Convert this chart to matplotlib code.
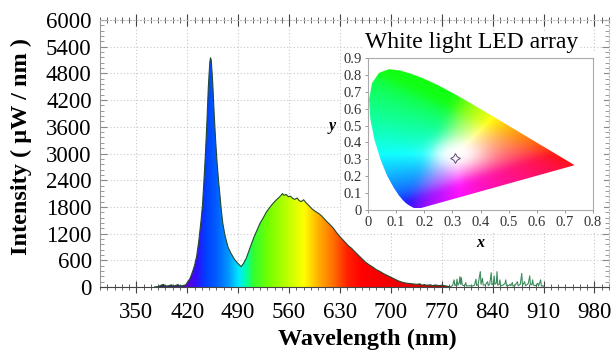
import numpy as np
import matplotlib
matplotlib.use("Agg")
import matplotlib.pyplot as plt
from matplotlib.colors import LinearSegmentedColormap, Normalize
from matplotlib.patches import Polygon
from matplotlib.ticker import MultipleLocator

# emission spectrum of the LED array (nm, uW/nm)
wl = [375, 380, 384, 387, 390, 395, 398, 401, 405, 407, 410, 414, 418, 421, 424,
      427, 430, 433, 436, 439, 441, 443, 445, 447, 449, 451, 452, 453, 455, 457,
      459, 461, 463, 465, 467, 469, 472, 476, 480, 485, 490, 494, 497, 501, 505,
      509, 512, 516, 520, 525, 529, 534, 538, 542, 546, 549, 551, 553, 556, 559,
      562, 565, 568, 571, 574, 577, 580, 583, 586, 589, 592, 596, 600, 604, 608,
      612, 617, 621, 625, 630, 634, 638, 642, 646, 650, 655, 660, 665, 670, 675,
      680, 685, 690, 695, 700, 705, 710, 715, 720, 725, 730, 735, 740, 743, 746,
      750, 754, 758, 762, 766, 770, 775, 780, 782]
intensity = [0, 10, 40, 60, 20, 30, 50, 20, 40, 55, 25, 30, 50, 120, 200,
             330, 480, 700, 1050, 1500, 1850, 2400, 3000, 3700, 4500, 5050, 5150, 5100, 4600, 3900,
             3300, 2800, 2400, 2050, 1700, 1420, 1150, 900, 760, 620, 520, 460, 520, 640, 820,
             1000, 1130, 1280, 1430, 1570, 1690, 1800, 1880, 1950, 2010, 2060, 2100, 2060, 2080, 2030,
             2040, 1990, 1970, 2000, 1940, 1920, 1960, 1900, 1850, 1800, 1750, 1700, 1660, 1610, 1540,
             1470, 1390, 1320, 1230, 1130, 1060, 990, 920, 870, 800, 720, 640, 560, 500, 450,
             390, 350, 300, 260, 220, 180, 140, 110, 90, 80, 70, 60, 70, 40, 55,
             35, 50, 30, 45, 30, 40, 25, 10, 0]

# near-infrared noise
nir_wl = [782, 785, 787, 788, 790, 791, 792, 794, 795, 796, 797, 798, 800, 802, 803,
          804, 808, 812, 815, 817, 818, 820, 823, 824, 826, 827, 830, 833, 834, 836,
          838, 839, 841, 842, 843, 845, 846, 847, 849, 850, 851, 854, 857, 858, 859,
          862, 864, 865, 867, 868, 871, 874, 875, 878, 880, 881, 884, 885, 887, 889,
          891, 892, 894, 895, 896, 899, 902, 903, 906, 907, 909, 911]
nir_val = [0, 40, 160, 30, 60, 175, 40, 90, 235, 60, 210, 50, 30, 40, 100,
           20, 30, 20, 40, 175, 30, 60, 345, 60, 195, 40, 50, 120, 30, 70,
           320, 50, 80, 250, 60, 90, 345, 40, 60, 160, 30, 40, 80, 160, 30,
           30, 60, 30, 100, 20, 40, 120, 30, 60, 305, 40, 120, 30, 50, 80,
           250, 50, 60, 160, 40, 30, 85, 20, 160, 20, 30, 0]

x_ticks = [350, 420, 490, 560, 630, 700, 770, 840, 910, 980]
y_ticks = [0, 600, 1200, 1800, 2400, 3000, 3600, 4200, 4800, 5400, 6000]

# CIE 1931 spectral locus (x, y)
locus_x = [0.1741, 0.1733, 0.1726, 0.1714, 0.1689, 0.1644, 0.1566, 0.1440, 0.1355,
           0.1241, 0.1096, 0.0913, 0.0687, 0.0454, 0.0235, 0.0082, 0.0039, 0.0139,
           0.0389, 0.0743, 0.1142, 0.1547, 0.1929, 0.2296, 0.2658, 0.3016, 0.3373,
           0.3731, 0.4087, 0.4441, 0.4788, 0.5125, 0.5448, 0.5752, 0.6029, 0.6270,
           0.6482, 0.6658, 0.6915, 0.7079, 0.7190, 0.7260, 0.7300, 0.7334, 0.7347]
locus_y = [0.0050, 0.0048, 0.0048, 0.0051, 0.0069, 0.0109, 0.0177, 0.0297, 0.0399,
           0.0578, 0.0868, 0.1327, 0.2007, 0.2950, 0.4127, 0.5384, 0.6548, 0.7502,
           0.8120, 0.8338, 0.8262, 0.8059, 0.7816, 0.7543, 0.7243, 0.6923, 0.6589,
           0.6245, 0.5896, 0.5547, 0.5202, 0.4866, 0.4544, 0.4242, 0.3965, 0.3725,
           0.3514, 0.3340, 0.3083, 0.2920, 0.2809, 0.2740, 0.2700, 0.2666, 0.2653]
led_x = [0.31]
led_y = [0.31]

SERIF = ["Liberation Serif", "DejaVu Serif"]
plt.rcParams["font.family"] = SERIF

W, H = 613, 354
fig = plt.figure(figsize=(W / 100, H / 100), dpi=100)


def px_axes(l, t, r, b):
    return [l / W, 1 - b / H, (r - l) / W, (b - t) / H]


def smooth(img, sigma):
    # separable gaussian blur, edges padded
    k = np.arange(-3 * sigma, 3 * sigma + 1)
    k = np.exp(-0.5 * (k / sigma) ** 2)
    k /= k.sum()
    r = len(k) // 2
    out = img
    for axis in (0, 1):
        pad = [(0, 0)] * 3
        pad[axis] = (r, r)
        p = np.pad(out, pad, mode="edge")
        out = np.apply_along_axis(lambda v: np.convolve(v, k, mode="valid"), axis, p)
    return out


ax = fig.add_axes(px_axes(100, 20, 609, 287))
ax.set_xlim(300, 1000)
ax.set_ylim(0, 6000)
ax.set_xticks(x_ticks)
ax.set_yticks(y_ticks)
ax.xaxis.set_minor_locator(MultipleLocator(10))
ax.yaxis.set_minor_locator(MultipleLocator(120))
ax.grid(True, which="major", linestyle=(0, (1, 2)), color="#c8c8c8", linewidth=0.8)
ax.set_axisbelow(True)
ax.tick_params(which="both", direction="in", top=True, right=True,
               color="#888888", labelsize=16.5, pad=6)
ax.tick_params(which="major", length=5, width=0.8)
ax.tick_params(which="minor", length=3, width=0.6)
ax.tick_params(axis="x", which="both", direction="inout", pad=7)
ax.tick_params(axis="x", which="major", length=8, color="#444444")
ax.tick_params(axis="x", which="minor", length=5, color="#444444")
ax.spines["bottom"].set_color("#444444")
ax.spines["left"].set_color("#999999")
for side in ("top", "right"):
    ax.spines[side].set_color("#bbbbbb")
    ax.spines[side].set_linestyle((0, (1, 2)))

ax.set_xlabel("Wavelength (nm)", fontsize=17.5, fontweight="bold")
ax.set_ylabel("Intensity ( μW / nm )", fontsize=17.5, fontweight="bold")
ax.xaxis.set_label_coords(0.5255, -0.158)
ax.yaxis.set_label_coords(-0.134, 0.528)

# rainbow-filled spectrum
stops = [(370, "#2e1f55"), (408, "#3a2a80"), (420, "#5a00d8"), (432, "#3010ff"),
         (445, "#0040ff"), (460, "#0060ff"), (475, "#0095ff"), (490, "#00e8ff"),
         (500, "#00ffa8"), (510, "#30ff30"), (530, "#70ff00"), (555, "#b8ff00"),
         (580, "#ffff00"), (600, "#ffb000"), (620, "#ff7000"), (640, "#ff2000"),
         (660, "#ff0000"), (730, "#e80000"), (790, "#8a1010")]
lo, hi = stops[0][0], stops[-1][0]
cmap = LinearSegmentedColormap.from_list(
    "spec", [((w - lo) / (hi - lo), c) for w, c in stops])
fill = ax.fill_between(wl, intensity, 0, facecolor="none", edgecolor="none")
grad = np.linspace(lo, hi, 600)[np.newaxis, :]
img = ax.imshow(grad, extent=(lo, hi, 0, 5300), aspect="auto", cmap=cmap,
                norm=Normalize(lo, hi), interpolation="bilinear", zorder=2)
img.set_clip_path(fill.get_paths()[0], transform=ax.transData)
ax.plot(wl, intensity, color="#244a30", linewidth=0.8, zorder=3)
ax.plot(nir_wl, nir_val, color="#3c8c5c", linewidth=0.8, zorder=3)

# white backdrop for the inset
bg = fig.add_axes(px_axes(341, 52, 604, 232))
bg.set_facecolor("white")
bg.set_xticks([])
bg.set_yticks([])
for s in bg.spines.values():
    s.set_visible(False)

# CIE chromaticity inset
ins = fig.add_axes(px_axes(368, 58, 593, 210))
ins.set_xlim(0, 0.8)
ins.set_ylim(0, 0.9)
ins.set_xticks(np.arange(0, 0.81, 0.1))
ins.set_yticks(np.arange(0, 0.91, 0.1))
ins.set_xticklabels(["0"] + [f"{v:.1f}" for v in np.arange(0.1, 0.81, 0.1)])
ins.set_yticklabels(["0"] + [f"{v:.1f}" for v in np.arange(0.1, 0.91, 0.1)])
ins.tick_params(direction="out", length=2.5, width=0.6, color="#888888",
                labelsize=10.5, labelcolor="#333333", pad=2)
for s in ins.spines.values():
    s.set_color("#aaaaaa")
    s.set_linewidth(0.8)

gx, gy = np.meshgrid(np.linspace(0, 0.8, 320), np.linspace(0.01, 0.9, 360))
X = gx / gy
Z = (1 - gx - gy) / gy
R = 3.2406 * X - 1.5372 - 0.4986 * Z
G = -0.9689 * X + 1.8758 + 0.0415 * Z
B = 0.0557 * X - 0.2040 + 1.0570 * Z
rgb = np.clip(np.dstack([R, G, B]), 0, None)
rgb = rgb / rgb.max(axis=2, keepdims=True).clip(1e-6)
rgb = rgb ** (1 / 2.0)
rgb = smooth(rgb, 9)
rgb = rgb / rgb.max(axis=2, keepdims=True).clip(1e-6)
# soft white glow around the white point
glow = 0.9 * np.exp(-(((gx - 0.32) / 0.09) ** 2 + ((gy - 0.33) / 0.08) ** 2))
rgb = rgb * (1 - glow[..., None]) + glow[..., None]
rgb = np.clip(0.93 * rgb + 0.07, 0, 1)
cie_img = ins.imshow(rgb, extent=(0, 0.8, 0.01, 0.9), origin="lower",
                     aspect="auto", interpolation="bilinear")
locus = Polygon(np.column_stack([locus_x, locus_y]), closed=True,
                transform=ins.transData, facecolor="none", edgecolor="none")
ins.add_patch(locus)
cie_img.set_clip_path(locus)
ins.plot(led_x, led_y, marker=(4, 1, 0), markersize=7, markerfacecolor="none",
         markeredgecolor="#5a4a70", markeredgewidth=0.7, linestyle="none")

ins.set_xlabel("x", fontsize=11.5, fontweight="bold", fontstyle="italic", labelpad=4)
ins.set_ylabel("y", fontsize=11.5, fontweight="bold", fontstyle="italic",
               rotation=0, labelpad=4)
ins.yaxis.set_label_coords(-0.16, 0.5)
ins.text(0.462, 1.10, "White light LED array", transform=ins.transAxes,
         fontsize=17, ha="center", va="center",
         bbox=dict(facecolor="white", edgecolor="none", pad=1))

fig.savefig("out.png", dpi=100)
